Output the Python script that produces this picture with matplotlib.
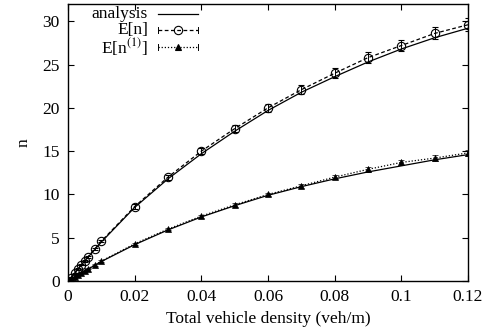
import numpy as np
import matplotlib
matplotlib.use('Agg')
import matplotlib.pyplot as plt

plt.rcParams['font.family'] = ['Liberation Serif', 'DejaVu Serif']
plt.rcParams['font.size'] = 12.5
plt.rcParams['mathtext.fontset'] = 'stix'

# analysis curves
x_ana = [0, 0.005, 0.01, 0.02, 0.03, 0.04, 0.05, 0.06, 0.07, 0.08, 0.09, 0.10, 0.11, 0.12]
n_ana = [0, 2.3, 4.5, 8.5, 11.8, 14.7, 17.3, 19.7, 21.8, 23.6, 25.3, 26.8, 28.1, 29.2]
n1_ana = [0, 1.15, 2.25, 4.2, 5.9, 7.4, 8.7, 9.9, 10.9, 11.8, 12.6, 13.3, 14.0, 14.6]

# simulation points
x_sim = [0.001, 0.002, 0.003, 0.004, 0.005, 0.006, 0.008, 0.01,
         0.02, 0.03, 0.04, 0.05, 0.06, 0.07, 0.08, 0.09, 0.10, 0.11, 0.12]
n_sim = [0.4, 0.9, 1.4, 1.9, 2.3, 2.8, 3.7, 4.6,
         8.6, 12.0, 15.0, 17.6, 20.0, 22.1, 24.0, 25.8, 27.2, 28.6, 29.6]
n_err = [0.05, 0.05, 0.1, 0.1, 0.1, 0.1, 0.15, 0.15,
         0.25, 0.3, 0.35, 0.4, 0.45, 0.5, 0.55, 0.6, 0.65, 0.7, 0.75]
n1_sim = [0.2, 0.45, 0.7, 0.95, 1.2, 1.4, 1.85, 2.3,
          4.3, 6.0, 7.5, 8.8, 10.0, 11.0, 12.0, 12.9, 13.7, 14.2, 14.8]
n1_err = [0.03, 0.03, 0.05, 0.05, 0.05, 0.05, 0.08, 0.08,
          0.12, 0.15, 0.18, 0.2, 0.22, 0.25, 0.27, 0.3, 0.32, 0.35, 0.37]

fig = plt.figure(figsize=(4.87, 3.31), dpi=100)
ax = fig.add_axes([0.1396, 0.151, 0.8214, 0.837])

lw = 0.9
ax.plot(x_ana, n_ana, color='black', lw=lw)
ax.plot(x_ana, n1_ana, color='black', lw=lw)
ax.errorbar(x_sim, n_sim, yerr=n_err, color='black', lw=lw, ls=(0, (3, 2)),
            marker='o', mfc='none', ms=6, mew=0.8, capsize=2, elinewidth=0.7)
ax.errorbar(x_sim, n1_sim, yerr=n1_err, color='black', lw=lw, ls=(0, (1, 1.5)),
            marker='^', mfc='black', ms=4.5, mew=0.5, capsize=2, elinewidth=0.7)

ax.set_xlim(0, 0.12)
ax.set_ylim(0, 32)
ax.set_xticks([0, 0.02, 0.04, 0.06, 0.08, 0.1, 0.12])
ax.set_xticklabels(['0', '0.02', '0.04', '0.06', '0.08', '0.1', '0.12'])
ax.set_yticks([0, 5, 10, 15, 20, 25, 30])
ax.tick_params(direction='in', top=True, right=True, length=4, width=0.8, pad=6)
for s in ax.spines.values():
    s.set_linewidth(1.0)

ax.set_xlabel('Total vehicle density (veh/m)', labelpad=4)
ax.set_ylabel('n', labelpad=8)

# gnuplot-style key: right-aligned labels, sample to the right
key = [('analysis', '-', None, 'none'),
       ('E[n]', (0, (3, 2)), 'o', 'none'),
       (r'E[n$^{(1)}$]', (0, (1, 1.5)), '^', 'black')]
key_y = [0.965, 0.907, 0.845]
for (lab, ls, mk, mfc), yy in zip(key, key_y):
    ax.text(0.2, yy, lab, transform=ax.transAxes, ha='right', va='center')
    ax.plot([0.225, 0.325], [yy, yy], transform=ax.transAxes, color='black',
            lw=lw, ls=ls)
    if mk is not None:
        ax.plot([0.275], [yy], transform=ax.transAxes, color='black',
                marker=mk, mfc=mfc, ms=6 if mk == 'o' else 4.5, mew=0.8)
        ax.plot([0.225, 0.225], [yy - 0.01, yy + 0.01], transform=ax.transAxes,
                color='black', lw=0.7)
        ax.plot([0.325, 0.325], [yy - 0.01, yy + 0.01], transform=ax.transAxes,
                color='black', lw=0.7)

fig.savefig('out.png', dpi=100)
